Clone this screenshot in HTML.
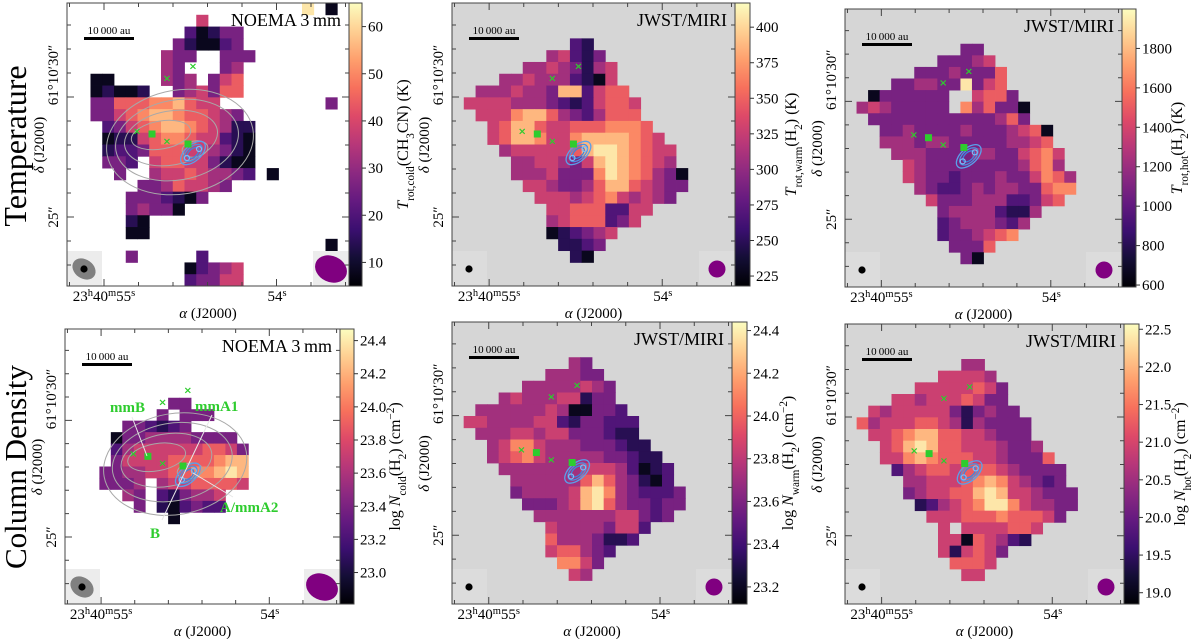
<!DOCTYPE html>
<html><head><meta charset="utf-8">
<style>
html,body{margin:0;padding:0;background:#fff;}
svg{display:block;font-family:"Liberation Serif","DejaVu Serif",serif;}
</style></head>
<body>
<svg id="fig" width="1200" height="639" viewBox="0 0 1200 639" xmlns="http://www.w3.org/2000/svg">
<defs id="defs"></defs>
<text x="0" y="0" transform="translate(26,146) rotate(-90)" text-anchor="middle" font-size="32">Temperature</text>
<text x="0" y="0" transform="translate(26,467) rotate(-90)" text-anchor="middle" font-size="31">Column Density</text>
</svg>
<script>
// ---- data (level codes 0-9 per cell, '.' = no data), 24x24 grids ----
const p1Grid = [
"....................9.0.",
"...........5............",
"..........20133.........",
".........310023..........",
"........433..333........",
"........43...34.........",
"..00....434.356.........",
"..01001..345366.........",
"..33666778655.........3.",
"..3356788766543.........",
"...2356788765411........",
"...0115677655210........",
"...1223666554310........",
"...332.566553100........",
"....3..455654432.0......",
"......33465543..........",
".....3332103............",
".....34330..............",
".....10.................",
".....00.................",
"......................0.",
".....3.....2............",
"..........02345.........",
"..........23355........."];
const p2Grid = [
"........................",
"........................",
"........................",
"..........21............",
"........45213...........",
"......44543145..........",
"....4454442105..........",
"..4445443882566.........",
".555544432125665........",
"..55578864324666........",
"...56886556667776.......",
"...568875578888765......",
"....455555689987655.....",
".....44554358987654.....",
".....444533379876430....",
"......55433468865433....",
".......555456754543.....",
"........556662255.......",
"........45666235........",
"........012345..........",
".........1123...........",
"..........10............",
"........................",
"........................"];
const p3Grid = [
"........................",
"........................",
"........................",
"..........33............",
"........33345...........",
"......33343336..........",
"....3344339356..........",
"..0333333..5663.........",
".45433333.746330........",
"..33333333333463........",
"...334333343334560......",
"...444344333334456......",
"....444333344335675.....",
".....54333333334674.....",
".....543323334335764....",
"......43223434433677....",
".......533344422356.....",
"........344442114.......",
"........23444324........",
"........2334567.........",
".........3336...........",
"..........30............",
"........................",
"........................"];
const p4Grid = [
"........................",
"........................",
"........................",
"........................",
"........................",
"........................",
".........33.............",
"........3.333...........",
".....332123.............",
"....03344443333.........",
"....245555556653........",
"....355556666788........",
"...3344556677898........",
"...3334.45566665........",
".....43.213445..........",
"......3.102322..........",
".........0..............",
"........................",
"........................",
"........................",
"........................",
"........................",
"........................",
"........................"];
const p5Grid = [
"........................",
"........................",
"........................",
"..........43............",
"........44433...........",
"......44444543..........",
"....4544455133..........",
"..4444445400332.........",
".554444552133222........",
"..44455455333211........",
"...45775444333211.......",
"...456754444433211......",
"....444444455542012.....",
".....44444468643102.....",
".....344445897432223....",
"......33345896433233....",
".......444444455323.....",
"........544443552.......",
"........64443112........",
"........566432..........",
".........7753...........",
"..........54............",
"........................",
"........................"];
const p6Grid = [
"........................",
"........................",
"........................",
"..........44............",
"........55554...........",
"......55555653..........",
"....5545556533..........",
"..5455555313433.........",
".645556654143333........",
"..55678866554333........",
"...56898665554334.......",
"...557876665543336......",
"....245665666543333.....",
".....44555678754323.....",
".....345566898554333....",
"......12456799754433....",
".......555666766653.....",
"........5.5555665.......",
"........55065421........",
"........515653..........",
".........6665...........",
"..........55............",
"........................",
"........................"];
const p1Ticks = [10, 20, 30, 40, 50, 60];
const p2Ticks = [225, 250, 275, 300, 325, 350, 375, 400];
const p3Ticks = [600, 800, 1000, 1200, 1400, 1600, 1800];
const p4Ticks = [23.0, 23.2, 23.4, 23.6, 23.8, 24.0, 24.2, 24.4];
const p5Ticks = [23.2, 23.4, 23.6, 23.8, 24.0, 24.2, 24.4];
const p6Ticks = [19.0, 19.5, 20.0, 20.5, 21.0, 21.5, 22.0, 22.5];
const p1Range = [5, 65];
const p2Range = [218, 417];
const p3Range = [590, 2000];
const p4Range = [22.81, 24.47];
const p5Range = [23.12, 24.44];
const p6Range = [18.85, 22.57];

const NS = 'http://www.w3.org/2000/svg';
const svg = document.getElementById('fig');
const defs = document.getElementById('defs');
const magma = ['#000004','#140e36','#3b0f70','#641a80','#8c2981','#b73779','#de4968','#f7705c','#fe9f6d','#fecf92','#fcfdbf'];
function hex(c){return [parseInt(c.substr(1,2),16),parseInt(c.substr(3,2),16),parseInt(c.substr(5,2),16)];}
function cmap(t){
  t=Math.max(0,Math.min(1,t)); const f=t*10; const i=Math.min(9,Math.floor(f)); const u=f-i;
  const a=hex(magma[i]), b=hex(magma[i+1]);
  return 'rgb('+a.map((v,k)=>Math.round(v+(b[k]-v)*u)).join(',')+')';
}
function el(tag, parent){ const e=document.createElementNS(NS,tag); parent.appendChild(e); return e; }

const panels = [
 {key:'t-cold', x:67,y:3,w:282,h:283, cbx:349,cbw:13, grid:p1Grid, ticks:p1Ticks, range:p1Range, dec:0, noema:true, title:'NOEMA 3\u2009mm',
  label:[['T','i'],['rot,cold','sub'],['(CH',''],['3','sub'],['CN) (K)','']]},
 {key:'t-warm', x:452,y:3,w:283,h:283, cbx:735,cbw:15, grid:p2Grid, ticks:p2Ticks, range:p2Range, dec:0, noema:false, title:'JWST/MIRI',
  label:[['T','i'],['rot,warm','sub'],['(H',''],['2','sub'],[') (K)','']]},
 {key:'t-hot', x:845,y:9,w:277,h:278, cbx:1122,cbw:14, grid:p3Grid, ticks:p3Ticks, range:p3Range, dec:0, noema:false, title:'JWST/MIRI',
  label:[['T','i'],['rot,hot','sub'],['(H',''],['2','sub'],[') (K)','']]},
 {key:'n-cold', x:65,y:329,w:275,h:275, cbx:340,cbw:14, grid:p4Grid, ticks:p4Ticks, range:p4Range, dec:1, noema:true, title:'NOEMA 3\u2009mm', labels:true,
  label:[['log ',''],['N','i'],['cold','sub'],['(H',''],['2','sub'],[') (cm',''],['\u22122','sup'],[')','']]},
 {key:'n-warm', x:452,y:322,w:280,h:282, cbx:732,cbw:15, grid:p5Grid, ticks:p5Ticks, range:p5Range, dec:1, noema:false, title:'JWST/MIRI',
  label:[['log ',''],['N','i'],['warm','sub'],['(H',''],['2','sub'],[') (cm',''],['\u22122','sup'],[')','']]},
 {key:'n-hot', x:845,y:324,w:279,h:280, cbx:1124,cbw:15, grid:p6Grid, ticks:p6Ticks, range:p6Range, dec:1, noema:false, title:'JWST/MIRI',
  label:[['log ',''],['N','i'],['hot','sub'],['(H',''],['2','sub'],[') (cm',''],['\u22122','sup'],[')','']]}
];

function addRich(parent, segs, size){
  const t=el('text',parent); t.setAttribute('font-size',size);
  segs.forEach(s=>{
    const ts=el('tspan',t); ts.textContent=s[0];
    if(s[1]==='i') ts.setAttribute('font-style','italic');
    if(s[1]==='sub'){ts.setAttribute('baseline-shift','sub');ts.setAttribute('font-size',size*0.7);}
    if(s[1]==='sup'){ts.setAttribute('baseline-shift','super');ts.setAttribute('font-size',size*0.7);}
  });
  return t;
}

panels.forEach((p,pi)=>{
  const g=el('g',svg);
  
  
  g.setAttribute('transform','translate('+p.x+','+p.y+')');
  const bg=el('rect',g);
  
  
  bg.setAttribute('width',p.w);bg.setAttribute('height',p.h);bg.setAttribute('fill',p.noema?'#ffffff':'#d6d6d6');
  const nr=p.grid.length, nc=24, cw=p.w/nc, ch=p.h/nr;
  const xs=c=>c*cw, ys=r=>r*ch;
  const vmin=p.range[0], vmax=p.range[1];
  const hm=el('g',g);
  
  
  p.grid.forEach((row,r)=>{
    for(let c=0;c<row.length;c++){
      const ch0=row[c]; if(ch0==='.') continue;
      const v=vmin+(parseInt(ch0)+0.5)/10*(vmax-vmin);
      const rc=el('rect',hm);
      
      
      rc.setAttribute('x',xs(c).toFixed(2));rc.setAttribute('y',ys(r).toFixed(2));
      rc.setAttribute('width',(cw+0.4).toFixed(2));rc.setAttribute('height',(ch+0.4).toFixed(2));
      rc.setAttribute('fill',cmap((v-vmin)/(vmax-vmin)));
    }
  });
  const sx=p.w/282, sy=p.h/283;
  if(p.noema){
    const gc=el('g',g);
    
    
    [[113,139,74,52],[110,137,62,40],[104,135,47,27],[94,132,30,14],[128,146,13,8]].forEach(e=>{
      const ee=el('ellipse',gc);
      ee.setAttribute('cx',e[0]*sx);ee.setAttribute('cy',e[1]*sy);ee.setAttribute('rx',e[2]*sx);ee.setAttribute('ry',e[3]*sy);
      ee.setAttribute('transform','rotate(-10 '+e[0]*sx+' '+e[1]*sy+')');
      ee.setAttribute('fill','none');ee.setAttribute('stroke','#a8a8a8');ee.setAttribute('stroke-width','1');
    });
  }
  const bc=el('g',g);
  
  
  const bx=126*sx, by=150*sy;
  [[15,8,'#5aa0ea'],[11,6,'#4a90e2'],[7,4,'#3d86dd']].forEach(e=>{
    const ee=el('ellipse',bc);
    ee.setAttribute('cx',bx);ee.setAttribute('cy',by);ee.setAttribute('rx',e[0]);ee.setAttribute('ry',e[1]);
    ee.setAttribute('transform','rotate(-42 '+bx+' '+by+')');
    ee.setAttribute('fill','none');ee.setAttribute('stroke',e[2]);ee.setAttribute('stroke-width','1.3');
  });
  [[bx+6,by-4],[bx-6,by+5]].forEach(q=>{
    const cc=el('circle',bc);
    cc.setAttribute('cx',q[0]);cc.setAttribute('cy',q[1]);cc.setAttribute('r',2.5);
    cc.setAttribute('fill','none');cc.setAttribute('stroke','#7fbaf5');cc.setAttribute('stroke-width','1.2');
  });
  [[126,63],[100,75],[70,128],[100,138]].forEach(m=>{
    const t=el('text',g);
    
    
    t.setAttribute('x',m[0]*sx);t.setAttribute('y',m[1]*sy+3.5);t.setAttribute('text-anchor','middle');
    t.setAttribute('font-size','10');t.setAttribute('font-weight','bold');t.setAttribute('fill','#2ecc2e');
    t.setAttribute('font-family','DejaVu Sans, sans-serif');t.textContent='\u00d7';
  });
  [[85,131],[121,141]].forEach(m=>{
    const r=el('rect',g);
    
    
    r.setAttribute('x',m[0]*sx-3.5);r.setAttribute('y',m[1]*sy-3.5);r.setAttribute('width',7);r.setAttribute('height',7);r.setAttribute('fill','#2ecc2e');
  });
  if(p.labels){
    const lg=el('g',g);
    
    
    const ox=p.x, oy=p.y;
    [[132,417,147,456],[212,415,162,520],[233,497,193,473]].forEach(l=>{
      const ln=el('line',lg);
      ln.setAttribute('x1',l[0]-ox);ln.setAttribute('y1',l[1]-oy);ln.setAttribute('x2',l[2]-ox);ln.setAttribute('y2',l[3]-oy);
      ln.setAttribute('stroke','#e8e8e8');ln.setAttribute('stroke-width','1');
    });
    [['mmB',110,412],['mmA1',195,411],['A/mmA2',220,512],['B',150,538]].forEach(s=>{
      const t=el('text',lg);
      
      
      t.setAttribute('x',s[1]-ox);t.setAttribute('y',s[2]-oy);t.setAttribute('font-size','15');t.setAttribute('font-weight','bold');t.setAttribute('fill','#2ecc2e');
      t.textContent=s[0];
    });
  }
  const bl=el('rect',g);
  
  
  bl.setAttribute('x',0);bl.setAttribute('y',p.h-35);bl.setAttribute('width',35);bl.setAttribute('height',35);bl.setAttribute('fill',p.noema?'#ececec':'#dcdcdc');
  if(p.noema){
    const ge=el('ellipse',g);
    
    
    ge.setAttribute('cx',17);ge.setAttribute('cy',p.h-17);ge.setAttribute('rx',12.5);ge.setAttribute('ry',9.5);ge.setAttribute('transform','rotate(35 17 '+(p.h-17)+')');ge.setAttribute('fill','#808080');
  }
  const dot=el('circle',g);
  
  
  dot.setAttribute('cx',17);dot.setAttribute('cy',p.h-17);dot.setAttribute('r',3.6);dot.setAttribute('fill','#000');
  const br=el('rect',g);
  
  
  br.setAttribute('x',p.w-36);br.setAttribute('y',p.h-35);br.setAttribute('width',36);br.setAttribute('height',35);br.setAttribute('fill',p.noema?'#ececec':'#dcdcdc');
  const pe=el('ellipse',g);
  
  
  const pcx=p.w-18, pcy=p.h-17;
  pe.setAttribute('cx',pcx);pe.setAttribute('cy',pcy);pe.setAttribute('rx',p.noema?16.5:8.5);pe.setAttribute('ry',p.noema?13:8.5);
  pe.setAttribute('transform','rotate(25 '+pcx+' '+pcy+')');pe.setAttribute('fill','#800080');
  const sbt=el('text',g);
  
  
  sbt.setAttribute('x',42);sbt.setAttribute('y',31);sbt.setAttribute('text-anchor','middle');sbt.setAttribute('font-size','11');sbt.textContent='10\u2009000 au';
  const sb=el('rect',g);
  
  
  sb.setAttribute('x',17);sb.setAttribute('y',34);sb.setAttribute('width',50);sb.setAttribute('height',3);sb.setAttribute('fill','#000');
  const tt=el('text',g);
  
  
  tt.setAttribute('x',p.w-8);tt.setAttribute('y',23);tt.setAttribute('text-anchor','end');tt.setAttribute('font-size','18');tt.textContent=p.title;
  const fr=el('rect',g);
  
  
  fr.setAttribute('width',p.w);fr.setAttribute('height',p.h);fr.setAttribute('fill','none');fr.setAttribute('stroke','#444');fr.setAttribute('stroke-width','1');
  let d='';
  for(let k=-1;k<9;k++){const x=(37+k*34.5)*sx; if(x<=1||x>=p.w-1) continue; const L=(k===0||k===5)?7:4;
    d+='M'+x+',0v'+L+'M'+x+','+p.h+'v-'+L;}
  for(let k=0;k<12;k++){const y=(22+k*24)*sy; if(y>=p.h-1) continue; const L=(k===3||k===8)?7:4;
    d+='M0,'+y+'h'+L+'M'+p.w+','+y+'h-'+L;}
  const tk=el('path',g);
  
  
  tk.setAttribute('d',d);tk.setAttribute('stroke','#444');tk.setAttribute('stroke-width','1');
  const xl1=addRich(g,[['23',''],['h','sup'],['40',''],['m','sup'],['55',''],['s','sup']],15);
  
  
  xl1.setAttribute('x',37*sx);xl1.setAttribute('y',p.h+15);xl1.setAttribute('text-anchor','middle');
  const xl2=addRich(g,[['54',''],['s','sup']],15);
  
  
  xl2.setAttribute('x',210*sx);xl2.setAttribute('y',p.h+15);xl2.setAttribute('text-anchor','middle');
  const xt=addRich(g,[['\u03b1','i'],[' (J2000)','']],15);
  
  
  xt.setAttribute('x',p.w/2);xt.setAttribute('y',p.h+32);xt.setAttribute('text-anchor','middle');
  const yl1=addRich(g,[['61\u00b010\u203230\u2033','']],15);
  
  
  yl1.setAttribute('text-anchor','middle');yl1.setAttribute('transform','translate(-9,'+(72*sy)+') rotate(-90)');
  const yl2=addRich(g,[['25\u2033','']],15);
  
  
  yl2.setAttribute('text-anchor','middle');yl2.setAttribute('transform','translate(-9,'+(214*sy)+') rotate(-90)');
  const yt=addRich(g,[['\u03b4','i'],[' (J2000)','']],15);
  
  
  yt.setAttribute('text-anchor','middle');yt.setAttribute('transform','translate(-23,'+(142*sy)+') rotate(-90)');
  const gid='grad'+pi;
  const lgd=el('linearGradient',defs);
  lgd.setAttribute('id',gid);lgd.setAttribute('x1','0');lgd.setAttribute('y1','1');lgd.setAttribute('x2','0');lgd.setAttribute('y2','0');
  magma.forEach((c,i)=>{const s=el('stop',lgd);s.setAttribute('offset',i/10);s.setAttribute('stop-color',c);});
  const cb=el('g',svg);
  
  
  const cr=el('rect',cb);
  cr.setAttribute('x',p.cbx);cr.setAttribute('y',p.y);cr.setAttribute('width',p.cbw);cr.setAttribute('height',p.h);
  cr.setAttribute('fill','url(#'+gid+')');cr.setAttribute('stroke','#444');cr.setAttribute('stroke-width','1');
  const cy=v=>p.y+p.h-(v-vmin)/(vmax-vmin)*p.h;
  p.ticks.forEach(v=>{
    const y=cy(v);
    const ln=el('line',cb);
    ln.setAttribute('x1',p.cbx+p.cbw);ln.setAttribute('x2',p.cbx+p.cbw+4);ln.setAttribute('y1',y);ln.setAttribute('y2',y);ln.setAttribute('stroke','#333');
    const t=el('text',cb);
    
    
    t.setAttribute('x',p.cbx+p.cbw+6);t.setAttribute('y',y+5);t.setAttribute('font-size','15');
    t.textContent=v.toFixed(p.dec);
  });
  const cl=addRich(cb,p.label,16);
  
  
  cl.setAttribute('text-anchor','middle');
  cl.setAttribute('transform','translate('+(p.cbx+p.cbw+46)+','+(p.y+p.h/2)+') rotate(-90)');
});
</script>
</body></html>
